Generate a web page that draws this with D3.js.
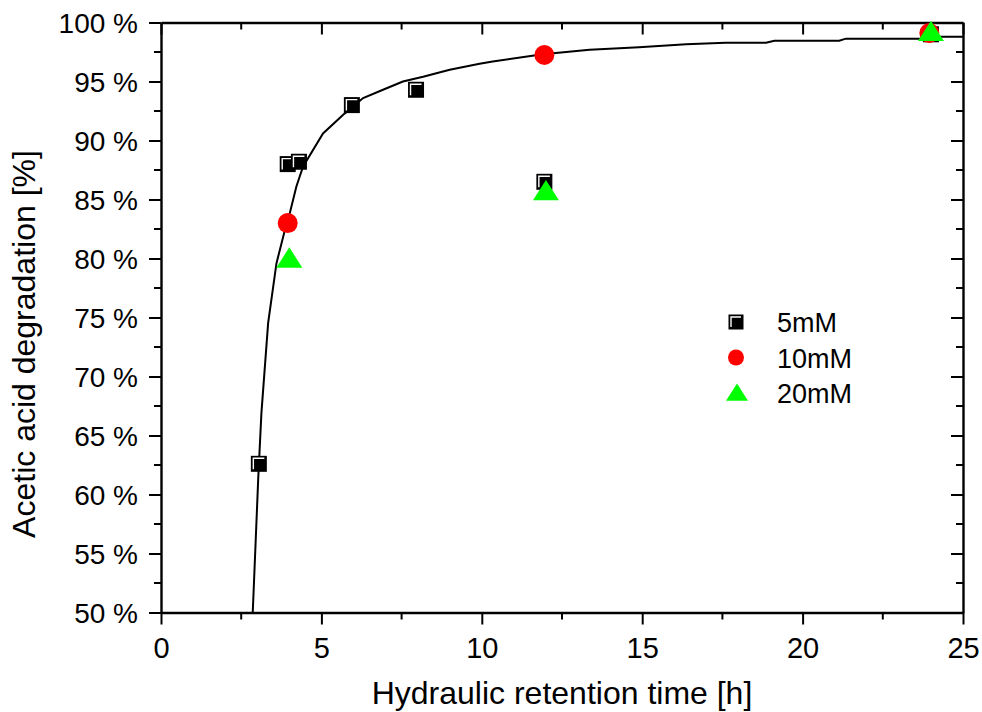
<!DOCTYPE html>
<html>
<head>
<meta charset="utf-8">
<script src="https://cdn.jsdelivr.net/npm/d3@7"></script>
<style>
  body { margin: 0; background: #fff; }
  svg { display: block; }
  text { font-family: "Liberation Sans", Arial, sans-serif; fill: #000; }
</style>
</head>
<body>
<svg id="chart" width="982" height="712"></svg>
<script>
// measured points
const hrt5 = [3.05, 3.95, 4.3, 5.95, 7.95, 11.95, 24]
const deg5 = [62.6, 88.0, 88.2, 93.0, 94.3, 86.5, 99.0]
const hrt10 = [3.95, 11.95, 23.95]
const deg10 = [83.0, 97.25, 99.1]
const hrt20 = [4.0, 12.0, 24.0]
const deg20 = [80.0, 85.7, 99.2]

// fitted curve
const fitX = [2.86, 3.03, 3.13, 3.34, 3.6, 3.86, 4.02, 4.22, 4.43, 5.05, 5.73, 6.3, 6.92, 7.54, 8.17, 9.0,
  9.93, 10.34, 11.9, 13.36, 14.9, 16.37, 17.6, 18.86, 19.12, 21.14, 21.35, 23.84, 24.04, 25]
const fitY = [50, 61.3, 66.9, 74.55, 79.6, 82.4, 83.9, 86.1, 87.8, 90.6, 92.3, 93.6, 94.3, 95.0, 95.4, 96.0,
  96.5, 96.7, 97.3, 97.7, 97.9, 98.15, 98.29, 98.29, 98.46, 98.46, 98.63, 98.63, 98.8, 98.8]

const xTicks = [0, 5, 10, 15, 20, 25]
const yTicks = [50, 55, 60, 65, 70, 75, 80, 85, 90, 95, 100]
const legendLabels = ['5mM', '10mM', '20mM']

const padL = 161, padR = 963, padT = 22.5, padB = 612.5
const svg = d3.select('#chart')

const x = d3.scaleLinear().domain([0, 25]).range([padL, padR])
const y = d3.scaleLinear().domain([50, 100]).range([padB, padT])

const minorX = d3.range(2.5, 25, 5)
const minorY = d3.range(52.5, 100, 5)

// axes: left & bottom ticks out, top & right ticks in
const gx = svg.append('g').attr('transform', `translate(0,${padB})`)
gx.call(d3.axisBottom(x).tickValues(xTicks).tickSizeInner(12).tickSizeOuter(0).tickPadding(13))
gx.selectAll('.tick text').attr('font-size', 29)
gx.selectAll('line.minor').data(minorX).join('line').attr('class', 'minor')
  .attr('x1', d => x(d)).attr('x2', d => x(d)).attr('y1', 0).attr('y2', 7)

const gxt = svg.append('g').attr('transform', `translate(0,${padT})`)
gxt.call(d3.axisBottom(x).tickValues(xTicks).tickSizeInner(12).tickSizeOuter(0).tickFormat(''))
gxt.selectAll('line.minor').data(minorX).join('line').attr('class', 'minor')
  .attr('x1', d => x(d)).attr('x2', d => x(d)).attr('y1', 0).attr('y2', 7)

const gy = svg.append('g').attr('transform', `translate(${padL},0)`)
gy.call(d3.axisLeft(y).tickValues(yTicks).tickSizeInner(12).tickSizeOuter(0).tickPadding(11)
  .tickFormat(d => d + ' %'))
gy.selectAll('.tick text').attr('font-size', 28).attr('dy', '0.36em')
gy.selectAll('line.minor').data(minorY).join('line').attr('class', 'minor')
  .attr('y1', d => y(d)).attr('y2', d => y(d)).attr('x1', 0).attr('x2', -7)

const gyr = svg.append('g').attr('transform', `translate(${padR},0)`)
gyr.call(d3.axisLeft(y).tickValues(yTicks).tickSizeInner(12).tickSizeOuter(0).tickFormat(''))
gyr.selectAll('line.minor').data(minorY).join('line').attr('class', 'minor')
  .attr('y1', d => y(d)).attr('y2', d => y(d)).attr('x1', 0).attr('x2', -7)

svg.selectAll('.domain').attr('stroke', '#000').attr('stroke-width', 2.4)
svg.selectAll('.tick line, line.minor').attr('stroke', '#000').attr('stroke-width', 2)

// axis titles
svg.append('text')
  .attr('x', (padL + padR) / 2).attr('y', 704)
  .attr('text-anchor', 'middle').attr('font-size', 32)
  .text('Hydraulic retention time [h]')
svg.append('text')
  .attr('transform', 'translate(35,344) rotate(-90)')
  .attr('text-anchor', 'middle').attr('font-size', 32)
  .text('Acetic acid degradation [%]')

// fit curve
svg.append('defs').append('clipPath').attr('id', 'plotclip')
  .append('rect').attr('x', padL).attr('y', padT).attr('width', padR - padL).attr('height', padB - padT)

const line = d3.line().x(d => x(d[0])).y(d => y(d[1]))
svg.append('path')
  .datum(d3.zip(fitX, fitY))
  .attr('clip-path', 'url(#plotclip)')
  .attr('d', line)
  .attr('fill', 'none').attr('stroke', '#000').attr('stroke-width', 2)

// marker helpers
function drawSquare(g, cx, cy, s) {
  let h = s / 2
  g.append('rect').attr('x', cx - h).attr('y', cy - h).attr('width', s).attr('height', s)
    .attr('fill', '#000')
  let k = h - 2.5
  g.append('path')
    .attr('d', `M${cx - k},${cy + k}L${cx - k},${cy - k}L${cx + k},${cy - k}`)
    .attr('fill', 'none').attr('stroke', '#fff').attr('stroke-width', 1.4)
}
function drawCircle(g, cx, cy, r) {
  g.append('circle').attr('cx', cx).attr('cy', cy).attr('r', r).attr('fill', '#ff0000')
}
function drawTriangle(g, cx, cy, w) {
  let hh = w * 0.78
  g.append('path')
    .attr('d', `M${cx},${cy - hh * 0.55}L${cx + w / 2},${cy + hh * 0.45}L${cx - w / 2},${cy + hh * 0.45}Z`)
    .attr('fill', '#00ff00')
}

const marks = svg.append('g')
hrt5.forEach((d, i) => drawSquare(marks, x(d), y(deg5[i]), 16))
hrt10.forEach((d, i) => drawCircle(marks, x(d), y(deg10[i]), 10))
hrt20.forEach((d, i) => drawTriangle(marks, x(d), y(deg20[i]), 26))

// legend
const lg = svg.append('g')
const lx = 736, ly0 = 322, lstep = 35.5
drawSquare(lg, lx, ly0, 15)
drawCircle(lg, lx, ly0 + lstep, 8)
drawTriangle(lg, lx + 1, ly0 + 2 * lstep, 22)
lg.selectAll('text.lab').data(legendLabels).join('text').attr('class', 'lab')
  .attr('x', 777).attr('y', (d, i) => ly0 + i * lstep + 10)
  .attr('font-size', 27)
  .text(d => d)
</script>
</body>
</html>
